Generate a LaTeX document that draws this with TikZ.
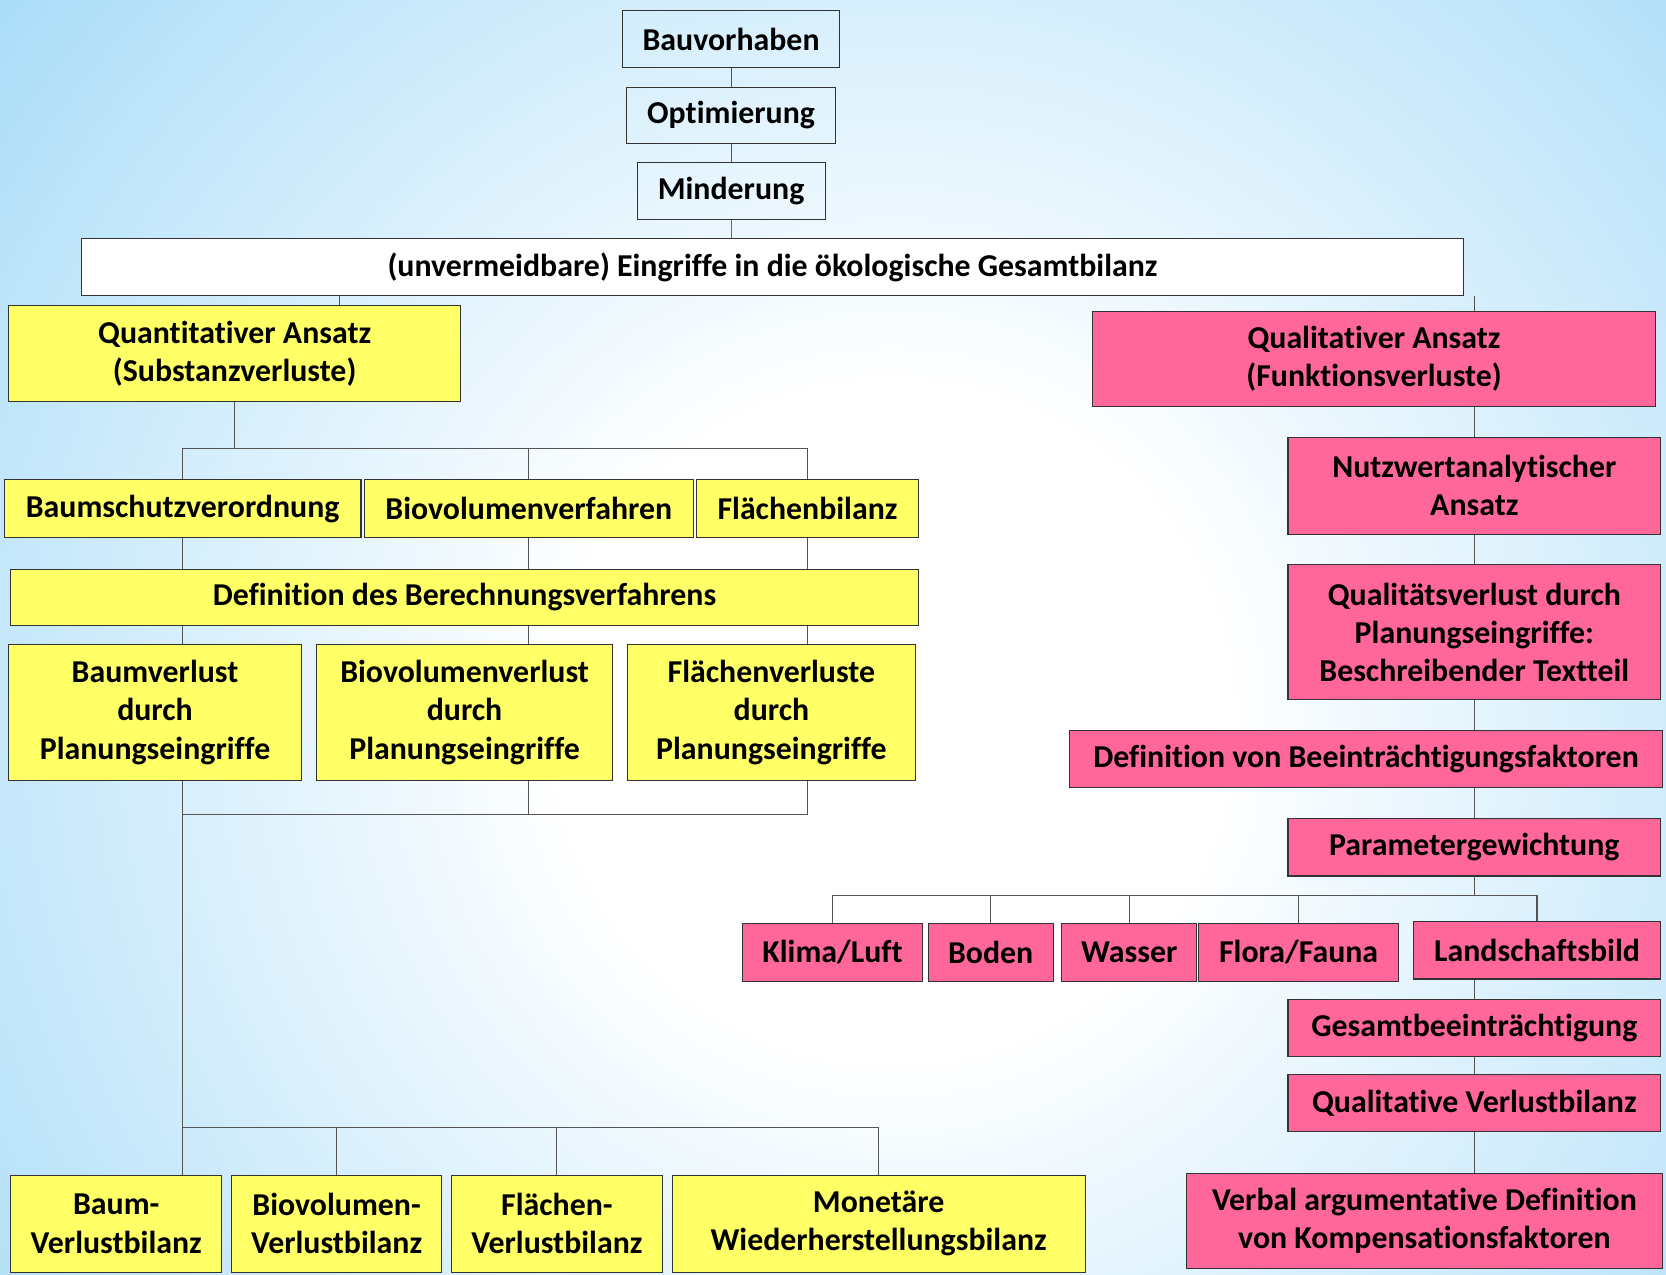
\documentclass[tikz,border=0pt]{standalone}
\usepackage{fontspec}
\setmainfont{Carlito}[Ligatures={NoCommon}]
\usetikzlibrary{positioning}
\definecolor{qyellow}{HTML}{FFFF66}
\definecolor{qpink}{HTML}{FF6699}
\definecolor{bgblue}{HTML}{A6DBF8}
\definecolor{linegray}{HTML}{555555}
\definecolor{lineblue}{HTML}{2E75B6}
\pgfdeclareradialshading{bgglow}{\pgfpoint{0bp}{0bp}}{color(0bp)=(white); color(7bp)=(white); color(25bp)=(bgblue); color(50bp)=(bgblue)}

\tikzset{
  box/.style={draw=black!80, line width=1pt, inner sep=0pt, align=center,
    font=\bfseries\fontsize{30}{36}\selectfont},
  wh/.style 2 args={minimum width=#1pt, minimum height=#2pt},
  ybox/.style={box, fill=qyellow},
  pbox/.style={box, fill=qpink},
  link/.style={draw=linegray, line width=1pt},
}

\begin{document}
\begin{tikzpicture}[x=1pt, y=-1pt]
  % background
  \useasboundingbox (0,0) rectangle (1569,1200);
  \fill[bgblue] (0,0) rectangle (1569,1200);
  \begin{scope}
    \clip (0,0) rectangle (1569,1200);
    \shade[shading=bgglow] (840,680) circle (1120pt);
  \end{scope}

  % top chain
  \node[box, wh={205}{54}] (bau) at (688.5,37) {Bauvorhaben};
  \node[box, wh={197}{53}, below of=bau, node distance=71.5pt] (opt) {Optimierung};
  \node[box, wh={177}{54}, below of=opt, node distance=71.5pt] (mind) {Minderung};
  \node[box, fill=white, wh={1301}{53}] (eingriff) at (727.5,251.5) {(unvermeidbare) Eingriffe in die ökologische Gesamtbilanz};

  % quantitative side
  \node[ybox, wh={426}{90}] (quant) at (221,333) {Quantitativer Ansatz\\(Substanzverluste)};
  \node[ybox, wh={336}{54}] (bsv) at (172,479) {Baumschutzverordnung};
  \node[ybox, wh={310}{54}] (bvv) at (498,479) {Biovolumenverfahren};
  \node[ybox, wh={209}{54}] (fb) at (760.5,479) {Flächenbilanz};
  \node[ybox, wh={855}{53}] (defber) at (437.5,562.5) {Definition des Berechnungsverfahrens};
  \node[ybox, wh={276}{128}] (bverl) at (146,671) {Baumverlust\\durch\\Planungseingriffe};
  \node[ybox, wh={279}{128}] (bioverl) at (437.5,671) {Biovolumenverlust\\durch\\Planungseingriffe};
  \node[ybox, wh={271}{128}] (flverl) at (726.5,671) {Flächenverluste\\durch\\Planungseingriffe};
  \node[ybox, wh={199}{91}] (baumvb) at (109.5,1152.5) {Baum-\\Verlustbilanz};
  \node[ybox, wh={198}{91}] (biovb) at (317,1152.5) {Biovolumen-\\Verlustbilanz};
  \node[ybox, wh={199}{91}] (flvb) at (524.5,1152.5) {Flächen-\\Verlustbilanz};
  \node[ybox, wh={389}{91}] (monvb) at (827.5,1152.5) {Monetäre\\Wiederherstellungsbilanz};

  % qualitative side
  \node[pbox, wh={530}{90}] (qual) at (1294,338) {Qualitativer Ansatz\\(Funktionsverluste)};
  \node[pbox, wh={351}{91}] (nutz) at (1388.5,457.5) {Nutzwertanalytischer\\Ansatz};
  \node[pbox, wh={351}{127}] (qverl) at (1388.5,595.5) {Qualitätsverlust durch\\Planungseingriffe:\\Beschreibender Textteil};
  \node[pbox, wh={559}{54}] (defbee) at (1286.5,715) {Definition von Beeinträchtigungsfaktoren};
  \node[pbox, wh={351}{54}] (param) at (1388.5,798) {Parametergewichtung};
  \node[pbox, wh={170}{54}] (klima) at (784,897) {Klima/Luft};
  \node[pbox, wh={118}{54}] (boden) at (933,897) {Boden};
  \node[pbox, wh={127}{54}] (wasser) at (1063.5,897) {Wasser};
  \node[pbox, wh={188}{54}] (flora) at (1223,897) {Flora/Fauna};
  \node[pbox, wh={233}{54}] (landsch) at (1447.5,895) {Landschaftsbild};
  \node[pbox, wh={351}{54}] (gesamt) at (1388.5,968) {Gesamtbeeinträchtigung};
  \node[pbox, wh={351}{54}] (qvb) at (1388.5,1039) {Qualitative Verlustbilanz};
  \node[pbox, wh={449}{90}] (verbal) at (1341.5,1150) {Verbal argumentative Definition\\von Kompensationsfaktoren};

  % bus lines
  \coordinate (qbus) at (0,422);
  \coordinate (vbus) at (0,767);
  \coordinate (bbus) at (0,1062);
  \coordinate (pbus) at (0,843);
  \coordinate (qtick) at ([xshift=99pt]quant.north);
  \coordinate (rtop) at (nutz.north |- eingriff.south);

  % connectors, top
  \draw[link] (bau) -- (opt);
  \draw[link] (opt) -- (mind);
  \draw[lineblue, line width=1pt] (mind.south) -- (mind.south |- eingriff.north);
  \draw[link] (qtick) -- (qtick |- eingriff.south);
  \draw[link] (rtop) -- (rtop |- qual.north);

  % connectors, quantitative
  \draw[link] (quant.south) -- (quant.south |- qbus);
  \draw[link] (bsv.north |- qbus) -- (fb.north |- qbus);
  \foreach \n in {bsv,bvv,fb}{
    \draw[link] (\n.north) -- (\n.north |- qbus);
    \draw[link] (\n.south) -- (\n.south |- defber.north);
    \draw[link] (\n.south |- defber.south) -- (\n.south |- bverl.north);
  }
  \draw[link] (bsv.south |- bverl.south) -- (bsv.south |- baumvb.north);
  \draw[link] (bvv.south |- bioverl.south) -- (bvv.south |- vbus);
  \draw[link] (bsv.south |- vbus) -- (fb.south |- vbus) -- (fb.south |- flverl.south);
  \draw[link] (bsv.south |- bbus) -- (monvb.north |- bbus);
  \foreach \n in {biovb,flvb,monvb}
    \draw[link] (\n.north) -- (\n.north |- bbus);

  % connectors, qualitative
  \draw[link] (nutz.north |- qual.south) -- (nutz.north);
  \draw[link] (nutz) -- (qverl);
  \draw[link] (qverl.south) -- (qverl.south |- defbee.north);
  \draw[link] (param.north |- defbee.south) -- (param.north);
  \draw[link] (param.south) -- (param.south |- pbus);
  \draw[link] (klima.north |- pbus) -- (landsch.north |- pbus);
  \foreach \n in {klima,boden,wasser,flora,landsch}
    \draw[link] (\n.north) -- (\n.north |- pbus);
  \draw[link] (param.south |- landsch.south) -- (gesamt.north);
  \draw[link] (gesamt) -- (qvb);
  \draw[link] (qvb.south) -- (qvb.south |- verbal.north);
\end{tikzpicture}
\end{document}
